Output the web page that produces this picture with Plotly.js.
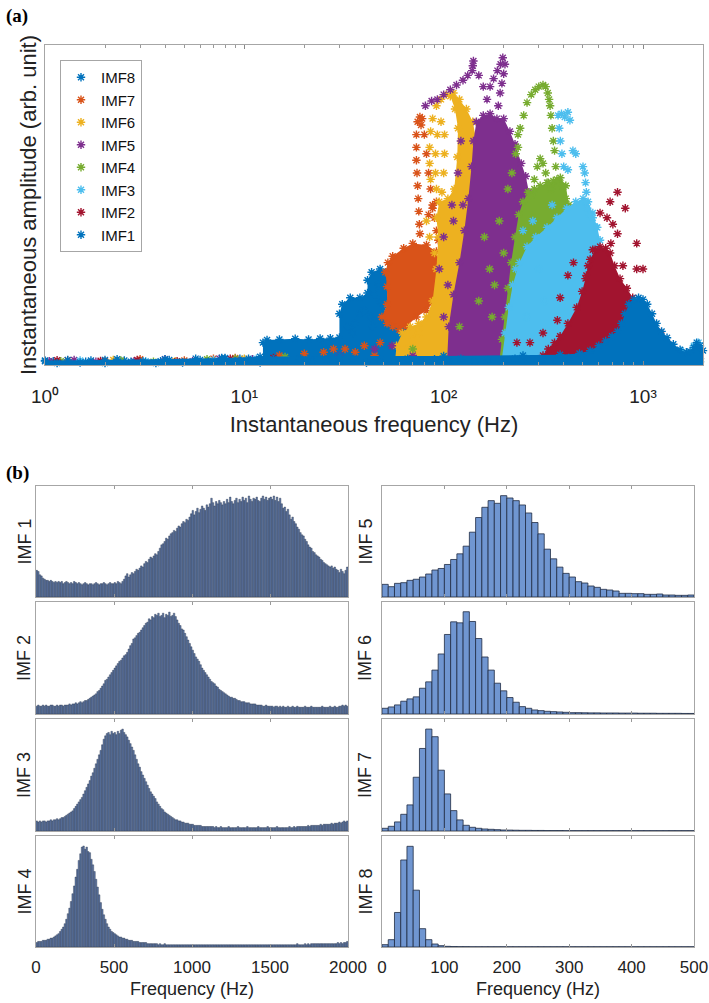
<!DOCTYPE html>
<html>
<head>
<meta charset="utf-8">
<script src="https://cdn.plot.ly/plotly-3.0.1.min.js"></script>
<style>
  html, body { margin: 0; padding: 0; background: #fff; }
  #fig { width: 709px; height: 1003px; }
</style>
</head>
<body>
<div id="fig"></div>
<script>
// ---------- panel (a): instantaneous frequency vs amplitude ----------
const imfNames = ["IMF8", "IMF7", "IMF6", "IMF5", "IMF4", "IMF3", "IMF2", "IMF1"];
const imfColors = ["#0072BD", "#D95319", "#EDB120", "#7E2F8E", "#77AC30", "#4DBEEE", "#A2142F", "#0072BD"];

// dense clouds (outline of the filled regions), freq in Hz / amplitude
const imf8CloudF = [12.4, 12.4, 13, 15, 18, 21, 24, 27, 30, 30, 31, 34, 38, 41.5, 41.5, 43.5, 48, 52, 52.5, 52, 50, 52, 58, 63, 65, 70, 70];
const imf8CloudA = [0.01, 0.07, 0.078, 0.08, 0.082, 0.08, 0.083, 0.084, 0.086, 0.16, 0.19, 0.21, 0.21, 0.225, 0.265, 0.29, 0.30, 0.29, 0.245, 0.20, 0.18, 0.15, 0.13, 0.11, 0.08, 0.025, 0.01];
const imf8StarF = [36, 38, 40, 43, 44, 45, 47, 48, 33, 35, 1.1, 1.6, 2.5, 3.8, 6, 8, 9.5];
const imf8StarA = [0.13, 0.16, 0.17, 0.15, 0.12, 0.22, 0.25, 0.20, 0.12, 0.10, 0.012, 0.01, 0.014, 0.012, 0.016, 0.02, 0.02];

const imf7CloudF = [49, 52, 52, 51, 52.5, 55.5, 63, 70, 82, 92, 96, 96, 90, 82, 73, 65, 60, 55.5, 52];
const imf7CloudA = [0.15, 0.19, 0.245, 0.29, 0.32, 0.34, 0.365, 0.38, 0.375, 0.355, 0.31, 0.26, 0.20, 0.17, 0.15, 0.12, 0.11, 0.12, 0.13];
const imf7StarF = [74, 76, 78, 77, 73, 73, 73, 73.5, 74, 74.5, 75, 75.5, 76, 80, 82, 84, 86, 88, 90, 92, 94, 84, 88, 92, 32, 36, 40, 45, 60, 1.3, 2, 3, 5, 7, 9, 15, 20, 25, 28, 48];
const imf7StarA = [0.76, 0.775, 0.77, 0.75, 0.72, 0.68, 0.64, 0.60, 0.56, 0.52, 0.48, 0.44, 0.41, 0.72, 0.66, 0.60, 0.55, 0.50, 0.46, 0.42, 0.39, 0.47, 0.49, 0.51, 0.05, 0.04, 0.06, 0.03, 0.06, 0.015, 0.012, 0.018, 0.014, 0.02, 0.022, 0.03, 0.035, 0.04, 0.05, 0.07];

const imf6CloudF = [57, 58, 62, 68, 75, 82, 88, 92, 94, 92, 95, 105, 113, 117, 118, 114, 108, 112, 120, 130, 140, 146, 150, 151, 148, 145, 140];
const imf6CloudA = [0.01, 0.06, 0.10, 0.12, 0.13, 0.15, 0.20, 0.30, 0.40, 0.46, 0.51, 0.52, 0.55, 0.65, 0.74, 0.80, 0.84, 0.85, 0.83, 0.80, 0.76, 0.70, 0.60, 0.45, 0.30, 0.15, 0.01];
const imf6StarF = [86, 85, 85, 86, 88, 92, 97, 103, 92, 91, 91, 93, 97, 101, 101, 100, 98, 82, 85, 90, 65, 70, 75, 2.2, 4.5, 10];
const imf6StarA = [0.58, 0.63, 0.68, 0.73, 0.77, 0.81, 0.83, 0.845, 0.55, 0.60, 0.66, 0.72, 0.76, 0.72, 0.66, 0.60, 0.54, 0.45, 0.40, 0.35, 0.05, 0.08, 0.10, 0.016, 0.012, 0.02];

const imf5CloudF = [104, 106, 112, 120, 127, 133, 138, 141, 146, 158, 171, 185, 200, 215, 228, 245, 258, 268, 272, 271, 265, 255, 245, 237, 230];
const imf5CloudA = [0.01, 0.12, 0.22, 0.32, 0.42, 0.52, 0.62, 0.70, 0.76, 0.78, 0.785, 0.77, 0.77, 0.73, 0.69, 0.63, 0.59, 0.54, 0.47, 0.39, 0.30, 0.22, 0.14, 0.07, 0.01];
const imf5StarF = [81, 87, 93, 100, 108, 116, 125, 132, 139, 141, 140, 150, 158, 165, 171, 178, 186, 193, 198, 203, 200, 196, 192, 188,
  1.05, 1.4, 1.8, 2.8, 4, 5.5, 7.5, 11, 30, 45, 55, 70, 100, 110, 95, 105, 112, 118, 122, 125, 100, 300, 320];
const imf5StarA = [0.81, 0.825, 0.83, 0.845, 0.86, 0.875, 0.89, 0.905, 0.92, 0.95, 0.935, 0.905, 0.87, 0.83, 0.87, 0.895, 0.92, 0.94, 0.96, 0.94, 0.91, 0.88, 0.85, 0.81,
  0.012, 0.016, 0.01, 0.012, 0.018, 0.012, 0.02, 0.018, 0.03, 0.05, 0.06, 0.03, 0.40, 0.50, 0.30, 0.25, 0.45, 0.60, 0.70, 0.50, 0.15, 0.20, 0.25];

const imf4CloudF = [190, 196, 203, 210, 218, 228, 238, 250, 265, 285, 305, 330, 355, 385, 410, 425, 428, 425, 410, 390, 370, 360];
const imf4CloudA = [0.01, 0.08, 0.15, 0.24, 0.32, 0.40, 0.47, 0.51, 0.54, 0.55, 0.56, 0.57, 0.575, 0.585, 0.56, 0.50, 0.42, 0.33, 0.22, 0.12, 0.05, 0.01];
const imf4StarF = [236, 242, 252, 262, 275, 288, 300, 315, 325, 333, 338, 342, 345, 350, 355, 360, 365, 370, 236, 230, 275, 285, 295, 305, 315, 325, 335, 345, 395, 410, 420, 400,
  1.2, 2.4, 3.5, 6.5, 9, 16, 70, 120, 150, 170, 180, 160, 190, 200, 175, 210, 220];
const imf4StarA = [0.72, 0.74, 0.78, 0.82, 0.845, 0.86, 0.87, 0.875, 0.87, 0.85, 0.83, 0.81, 0.78, 0.74, 0.70, 0.67, 0.62, 0.58, 0.68, 0.66, 0.53, 0.58, 0.62, 0.645, 0.63, 0.60, 0.57, 0.55, 0.56, 0.52, 0.49, 0.45,
  0.012, 0.014, 0.01, 0.018, 0.02, 0.025, 0.05, 0.12, 0.20, 0.30, 0.25, 0.40, 0.45, 0.35, 0.15, 0.55, 0.60];

const imf3CloudF = [195, 203, 212, 222, 240, 262, 290, 330, 370, 415, 460, 500, 530, 560, 590, 609, 625, 650, 700, 767, 880, 1030, 1200, 1368, 1550, 1723, 1935, 1935];
const imf3CloudA = [0.01, 0.10, 0.18, 0.25, 0.32, 0.37, 0.40, 0.43, 0.46, 0.49, 0.51, 0.52, 0.51, 0.475, 0.43, 0.39, 0.33, 0.28, 0.22, 0.17, 0.135, 0.11, 0.08, 0.06, 0.045, 0.035, 0.02, 0.01];
const imf3StarF = [375, 390, 405, 420, 430, 380, 385, 392, 400, 445, 460, 420, 500, 510, 515, 520, 515, 525, 560, 585, 540, 1800, 1900, 1950, 1.5, 3.2, 7, 11.5, 250, 230, 300, 320, 260, 280, 350];
const imf3StarA = [0.78, 0.785, 0.775, 0.79, 0.765, 0.74, 0.70, 0.66, 0.62, 0.67, 0.66, 0.61, 0.62, 0.60, 0.57, 0.54, 0.51, 0.49, 0.46, 0.43, 0.47, 0.06, 0.07, 0.05, 0.014, 0.012, 0.016, 0.02, 0.42, 0.30, 0.30, 0.20, 0.15, 0.45, 0.50];

const imf2CloudF = [300, 315, 335, 360, 384, 420, 465, 495, 515, 530, 543, 575, 609, 650, 684, 720, 767, 830, 888, 960, 1050, 1130, 1219, 1320, 1420, 1535, 1560];
const imf2CloudA = [0.01, 0.03, 0.05, 0.07, 0.09, 0.13, 0.18, 0.23, 0.27, 0.31, 0.33, 0.36, 0.37, 0.365, 0.35, 0.31, 0.27, 0.24, 0.21, 0.18, 0.15, 0.125, 0.10, 0.07, 0.045, 0.02, 0.01];
const imf2StarF = [745, 684, 815, 706, 745, 690, 930, 793, 930, 1000, 448, 420, 384, 372, 315, 271, 233, 609, 660, 560, 520, 1.15, 1.9, 2.9, 4.6, 8.5, 14];
const imf2StarA = [0.54, 0.51, 0.49, 0.44, 0.41, 0.38, 0.38, 0.31, 0.30, 0.30, 0.32, 0.28, 0.21, 0.14, 0.10, 0.07, 0.07, 0.475, 0.46, 0.36, 0.28, 0.015, 0.013, 0.016, 0.012, 0.02, 0.022];

const imf1CloudF = [1, 1, 2, 4, 8, 12, 30, 100, 250, 384, 480, 543, 600, 650, 700, 745, 780, 811, 850, 900, 950, 1000, 1050, 1110, 1170, 1240, 1320, 1420, 1535, 1650, 1723, 1800, 1860, 1930, 2000, 2000];
const imf1CloudA = [-0.03, 0.014, 0.016, 0.018, 0.022, 0.026, 0.028, 0.028, 0.03, 0.032, 0.036, 0.045, 0.06, 0.075, 0.09, 0.105, 0.13, 0.16, 0.19, 0.205, 0.21, 0.205, 0.19, 0.16, 0.13, 0.105, 0.085, 0.065, 0.048, 0.04, 0.042, 0.055, 0.07, 0.06, 0.045, -0.03];
const imf1StarF = [1.0, 1.15, 1.3, 1.5, 1.7, 2.0, 2.3, 2.7, 3.1, 3.6, 4.2, 4.9, 5.7, 6.6, 7.7, 9.0, 10.5, 12, 14, 16, 19, 22, 26, 30, 35, 41, 48, 56, 66, 77, 90, 105, 122, 143, 167, 195, 228, 266, 311, 363, 424, 495];
const imf1StarA = [0.012, 0.006, 0.016, 0.008, 0.014, 0.006, 0.018, 0.01, 0.012, 0.006, 0.016, 0.008, 0.02, 0.01, 0.022, 0.012, 0.02, 0.008, 0.018, 0.012, 0.02, 0.01, 0.018, 0.012, 0.02, 0.008, 0.016, 0.012, 0.02, 0.01, 0.018, 0.012, 0.02, 0.01, 0.016, 0.012, 0.02, 0.01, 0.018, 0.012, 0.022, 0.03];

const freqTicks = [1, 10, 100, 1000];
const freqTickText = ["10\u2070", "10\u00B9", "10\u00B2", "10\u00B3"];

// ---------- panel (b): histograms (bar height as % of panel height) ----------
const imf1Counts = [24,23,20,19,17,16,15,15,14,15, 14,13,14,13,14,13,14,12,13,14, 13,12,13,12,14,13,12,13,12,11, 12,13,12,11,12,12,11,12,13,12,
  11,12,12,13,12,11,12,13,12,12, 13,12,14,13,12,14,16,19,21,18, 20,22,21,23,25,24,26,28,27,30, 32,31,34,36,35,37,39,38,41,44,
  47,48,50,53,52,55,57,58,60,59, 62,64,63,66,68,67,70,69,72,75, 78,74,77,80,76,79,82,80,78,83, 81,84,89,85,82,86,84,87,85,83,
  86,84,88,85,90,86,84,87,89,85, 88,86,90,87,89,85,91,88,86,89, 88,90,87,86,89,91,88,90,87,89, 90,88,91,87,90,86,89,84,80,81,
  77,79,74,70,72,68,66,63,61,58, 56,55,52,50,47,45,44,41,40,38, 37,36,34,33,31,30,29,28,27,28, 26,27,25,24,22,25,23,21,24,27];
const imf2Counts = [7,8,7,7,8,7,8,7,7,8, 8,7,7,8,7,8,8,7,8,8, 8,9,8,9,9,10,9,10,11,10, 11,12,12,13,14,15,16,17,18,20,
  21,23,25,27,30,31,33,35,37,39, 41,43,45,47,48,50,52,53,55,58, 61,63,67,68,70,72,73,75,77,79, 81,82,85,84,87,86,89,88,90,87,
  88,90,86,89,88,91,87,88,90,87, 84,81,79,76,75,72,69,66,63,60, 57,54,51,49,47,44,41,39,37,35, 33,31,29,28,27,25,24,22,21,20,
  19,18,17,16,15,15,14,14,13,12, 12,11,11,11,10,10,10,9,9,9, 9,8,8,8,8,7,7,8,7,7, 7,7,6,7,7,6,7,6,7,6,
  6,7,6,6,7,6,6,7,6,6, 6,6,7,6,6,6,7,6,6,6, 6,6,6,7,6,6,6,6,7,6, 6,7,6,6,7,7,8,7,8,7];
const imf3Counts = [9,8,9,8,9,9,8,9,9,10, 9,10,10,11,10,11,12,12,13,14, 15,16,17,18,20,22,24,26,28,30, 33,36,39,42,45,49,52,56,60,64,
  68,72,77,82,85,87,88,86,89,87, 88,86,89,87,90,91,88,86,84,81, 78,75,72,68,64,60,57,53,50,47, 44,41,38,35,33,31,29,26,24,22,
  20,19,17,16,15,14,13,12,11,10, 10,9,9,8,8,7,7,7,6,6, 6,5,5,5,5,5,4,4,4,4, 4,4,4,4,3,4,3,3,4,3,
  3,3,3,4,3,3,3,3,3,4, 3,3,3,3,3,4,3,3,3,3, 3,3,4,3,3,3,3,3,4,3, 3,3,3,3,4,3,3,3,3,3,
  3,3,4,3,3,4,3,4,4,4, 4,4,4,4,5,4,5,5,5,5, 5,5,6,5,6,6,6,6,6,7, 6,7,7,7,8,7,8,9,8,9];
const imf4Counts = [4,5,5,5,6,6,6,7,7,8, 8,9,10,11,12,14,16,18,21,25, 30,35,41,48,55,63,70,78,84,90, 91,88,90,86,85,79,74,68,61,54,
  47,40,34,29,25,21,18,16,14,13, 12,11,10,9,9,8,8,7,7,6, 6,6,5,5,5,5,4,4,4,4, 4,3,3,3,3,3,3,3,2,3,
  2,2,3,2,2,2,2,2,2,2, 2,2,2,2,2,2,2,2,2,2, 2,2,2,2,2,2,2,2,2,2, 2,2,2,2,2,2,2,2,2,2,
  2,2,2,2,2,2,2,2,2,2, 2,2,2,2,2,2,2,2,2,2, 2,2,2,2,2,2,2,2,2,2, 2,2,2,2,2,2,2,2,2,2,
  2,2,2,2,2,2,2,3,2,2, 2,2,3,2,3,2,3,3,3,3, 3,3,3,3,3,3,3,3,3,3, 3,3,3,4,3,4,3,4,4,5];
const imf5Counts = [11.4,9.3,12.3,12.9,15,16,18,20.7,24.3,25.7, 29.3,33.8,38.9,45.8,58.4,71.6,80.8,86.8,84.4,91.3,
  89.2,86.8,82.9,75.7,67.1,56.9,43.1,34.4,26.9,21.3, 18,13.8,12.6,9.9,8.7,6.9,6.3,5.4,3.3,3.3, 3,3,2.4,2.4,2.7,1.8,1.8,1.5,1.5,1.8];
const imf6Counts = [5.1,6.3,8.1,11.4,13.5,15.3,23,28.7,39.2,53.6, 71,82.3,81.4,91.3,82.6,67.4,50.9,39.2,27.5,20.7,
  14.7,10.5,6.6,5.1,3.6,3,2.4,2.1,1.8,1.5, 1.2,1.2,1.1,1,1,0.9,0.9,0.9,0.8,0.8, 0.8,0.7,0.7,0.7,0.6,0.6,0.6,0.6,0.5,0.5];
const imf7Counts = [2.4,4.2,8.1,14.9,23.3,48,73.7,91,84.2,54.3, 33.1,18.2,9.9,5.1,3.3,2.4,1.8,1.5,1.2,0.9,
  0.8,0.7,0.6,0.6,0.5,0.5,0.4,0.4,0.4,0.3, 0.3,0.3,0.3,0.3,0.3,0.3,0.3,0.3,0.3,0.3, 0.3,0.3,0.3,0.3,0.3,0.3,0.3,0.3,0.3,0.3];
const imf8Counts = [2.1,6.6,31.1,78.4,90.7,51.2,16.5,6.6,2.7,1.2, 0.6,0.4,0.3,0.3,0.2,0.2,0.2,0.2,0.2,0.2,
  0.2,0.2,0.2,0.2,0.2,0.2,0.2,0.2,0.2,0.2, 0.2,0.2,0.2,0.2,0.2,0.2,0.2,0.2,0.2,0.2, 0.2,0.2,0.2,0.2,0.2,0.2,0.2,0.2,0.2,0.2];

const histLabels = ["IMF 1", "IMF 2", "IMF 3", "IMF 4", "IMF 5", "IMF 6", "IMF 7", "IMF 8"];
const leftTicks = [0, 500, 1000, 1500, 2000];
const rightTicks = [0, 100, 200, 300, 400, 500];

// ---------- build ----------
const W = 709, H = 1003;
const fx = p => p / W;
const fy = p => 1 - p / H;
const FONT = "Liberation Sans, Arial, Helvetica, sans-serif";
const BOX = "#a6a6a6";

const clouds = [
  [imf8CloudF, imf8CloudA, imf8StarF, imf8StarA],
  [imf7CloudF, imf7CloudA, imf7StarF, imf7StarA],
  [imf6CloudF, imf6CloudA, imf6StarF, imf6StarA],
  [imf5CloudF, imf5CloudA, imf5StarF, imf5StarA],
  [imf4CloudF, imf4CloudA, imf4StarF, imf4StarA],
  [imf3CloudF, imf3CloudA, imf3StarF, imf3StarA],
  [imf2CloudF, imf2CloudA, imf2StarF, imf2StarA],
  [imf1CloudF, imf1CloudA, imf1StarF, imf1StarA]
];

const traces = [];
clouds.forEach((c, i) => {
  const col = imfColors[i];
  const star = { symbol: "asterisk-open", size: 7, color: col, line: { color: col, width: 1.4 } };
  // filled cloud, with a star at each outline point
  traces.push({
    x: c[0], y: c[1], type: "scatter", mode: "lines+markers", fill: "toself",
    fillcolor: col, line: { width: 0, color: col }, marker: star,
    showlegend: false, hoverinfo: "skip", cliponaxis: false, xaxis: "x", yaxis: "y"
  });
  traces.push({
    x: c[2], y: c[3], type: "scatter", mode: "markers", name: imfNames[i],
    marker: star, cliponaxis: false, xaxis: "x", yaxis: "y"
  });
});

const hists = [imf1Counts, imf2Counts, imf3Counts, imf4Counts, imf5Counts, imf6Counts, imf7Counts, imf8Counts];
const rows = [[486, 597], [602, 714], [719, 831], [836, 947]];
const cols = [[36, 348], [382, 694]];
const labelX = [24, 365];

const annotations = [
  { text: "<b>(a)</b>", x: fx(4), y: fy(16), xref: "paper", yref: "paper", xanchor: "left", yanchor: "middle",
    showarrow: false, font: { family: "Liberation Serif, Times New Roman, serif", size: 19, color: "#000" } },
  { text: "<b>(b)</b>", x: fx(4), y: fy(473), xref: "paper", yref: "paper", xanchor: "left", yanchor: "middle",
    showarrow: false, font: { family: "Liberation Serif, Times New Roman, serif", size: 19, color: "#000" } }
];

const layout = {
  width: W, height: H,
  margin: { l: 0, r: 0, t: 0, b: 0 },
  paper_bgcolor: "#fff", plot_bgcolor: "#fff",
  font: { family: FONT, color: "#222", size: 17 },
  bargap: 0,
  showlegend: true,
  legend: {
    x: fx(60), y: fy(60), xanchor: "left", yanchor: "top",
    bordercolor: BOX, borderwidth: 1, bgcolor: "#fff",
    font: { size: 15, family: FONT, color: "#111" }, traceorder: "normal"
  },
  xaxis: {
    type: "log", range: [0, Math.log10(2000)], domain: [fx(45), fx(703)], anchor: "y",
    showline: true, mirror: "ticks", linecolor: BOX, linewidth: 1,
    ticks: "inside", ticklen: 4, tickcolor: "#888",
    tickvals: freqTicks, ticktext: freqTickText, tickfont: { size: 19, color: "#222" },
    ticklabelstandoff: 14,
    showgrid: false, zeroline: false,
    minor: { ticks: "inside", ticklen: 3, tickcolor: "#999", dtick: "D1", showgrid: false },
    title: { text: "Instantaneous frequency (Hz)", font: { size: 22, color: "#222" }, standoff: 10 }
  },
  yaxis: {
    range: [0, 1], domain: [fy(365), fy(45)], anchor: "x",
    showline: true, mirror: true, linecolor: BOX, linewidth: 1,
    ticks: "", showticklabels: false, showgrid: false, zeroline: false,
    title: { text: "Instantaneous amplitude (arb. unit)", font: { size: 22, color: "#222" }, standoff: 1 }
  },
  annotations: annotations
};

hists.forEach((counts, k) => {
  const n = k + 2;
  const left = k < 4;
  const row = rows[k % 4], col = left ? cols[0] : cols[1];
  const binW = 10;
  const centers = counts.map((_, i) => binW * i + binW / 2);
  traces.push({
    x: centers, y: counts, type: "bar", width: binW,
    marker: left
      ? { color: "#5f78a6", line: { color: "#263249", width: 0.4 } }
      : { color: "#7096d1", line: { color: "#1f2b42", width: 0.8 } },
    xaxis: "x" + n, yaxis: "y" + n, showlegend: false, hoverinfo: "skip"
  });
  const bottom = (k % 4) === 3;
  const xa = {
    domain: [fx(col[0]), fx(col[1])], anchor: "y" + n,
    range: left ? [0, 2000] : [0, 500],
    showline: true, mirror: "ticks", linecolor: BOX, linewidth: 1,
    ticks: "inside", ticklen: 3, tickcolor: "#999",
    tickvals: left ? leftTicks : rightTicks,
    showticklabels: bottom, tickfont: { size: 17, color: "#222" },
    ticklabelstandoff: 5,
    showgrid: false, zeroline: false
  };
  if (bottom) xa.title = { text: "Frequency (Hz)", font: { size: 18, color: "#222" }, standoff: 5 };
  layout["xaxis" + n] = xa;
  layout["yaxis" + n] = {
    domain: [fy(row[1]), fy(row[0])], anchor: "x" + n, range: [0, 100],
    showline: true, mirror: true, linecolor: BOX, linewidth: 1,
    ticks: "", showticklabels: false, showgrid: false, zeroline: false
  };
  annotations.push({
    text: histLabels[k], x: fx(labelX[left ? 0 : 1]), y: fy((row[0] + row[1]) / 2),
    xref: "paper", yref: "paper", xanchor: "center", yanchor: "middle", textangle: -90,
    showarrow: false, font: { size: 18, color: "#222", family: FONT }
  });
});

Plotly.newPlot("fig", traces, layout, { staticPlot: true, displayModeBar: false });
</script>
</body>
</html>
